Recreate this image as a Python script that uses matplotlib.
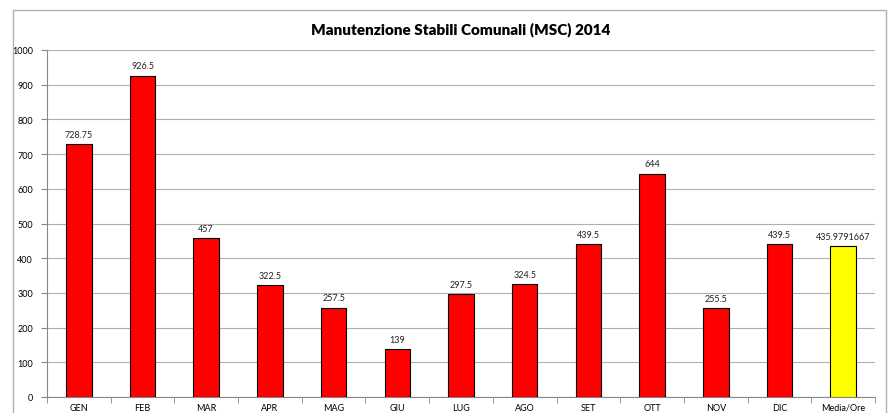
import matplotlib.pyplot as plt
import numpy as np
from matplotlib.patches import Rectangle

# Monthly hours, plus the average
months = ["GEN", "FEB", "MAR", "APR", "MAG", "GIU", "LUG", "AGO", "SET", "OTT", "NOV", "DIC", "Media/Ore"]
hours = [728.75, 926.5, 457, 322.5, 257.5, 139, 297.5, 324.5, 439.5, 644, 255.5, 439.5, 435.9791667]
labels = ["728.75", "926.5", "457", "322.5", "257.5", "139", "297.5", "324.5", "439.5", "644", "255.5", "439.5", "435.9791667"]
colors = ["#ff0000"] * 12 + ["#ffff00"]

plt.rcParams['font.family'] = ['Lato', 'DejaVu Sans']

fig = plt.figure(figsize=(8.95, 4.14), dpi=100)
ax = fig.add_axes([47 / 895, 1 - 398 / 414, (875 - 47) / 895, (398 - 51) / 414])

x = np.arange(len(months))
ax.bar(x, hours, width=0.4, color=colors, edgecolor="black", linewidth=0.8, zorder=3)
for xi, h, lab in zip(x, hours, labels):
    ax.text(xi, h + 15, lab, ha="center", va="bottom", fontsize=6.5, color="#222222")

ax.set_xlim(-0.5, len(months) - 0.5)
ax.set_ylim(0, 1000)
ax.set_yticks(np.arange(0, 1001, 100))
ax.set_xticks(x)
ax.set_xticklabels(months, fontsize=6.5)
ax.set_xticks(np.arange(-0.5, len(months), 1), minor=True)
ax.tick_params(axis="x", which="major", length=0, pad=4)
ax.tick_params(axis="x", which="minor", length=4, color="#888888")
ax.tick_params(axis="y", length=4, color="#888888", labelsize=6.5, pad=6)
ax.grid(axis="y", color="#b0b0b0", linewidth=0.8, zorder=0)

for s in ["top", "right"]:
    ax.spines[s].set_visible(False)
for s in ["left", "bottom"]:
    ax.spines[s].set_color("#888888")

fig.text((47 + 875) / 2 / 895, 1 - 30 / 414, "Manutenzione Stabili Comunali (MSC) 2014",
         ha="center", va="center", fontsize=11, fontweight="heavy")

# chart area frame
fig.patches.append(Rectangle((13 / 895, -0.05), (886 - 13) / 895, 1.05 - 11 / 414,
                             transform=fig.transFigure, fill=False,
                             edgecolor="#b0b0b0", linewidth=1))

fig.savefig("out.png", dpi=100)
